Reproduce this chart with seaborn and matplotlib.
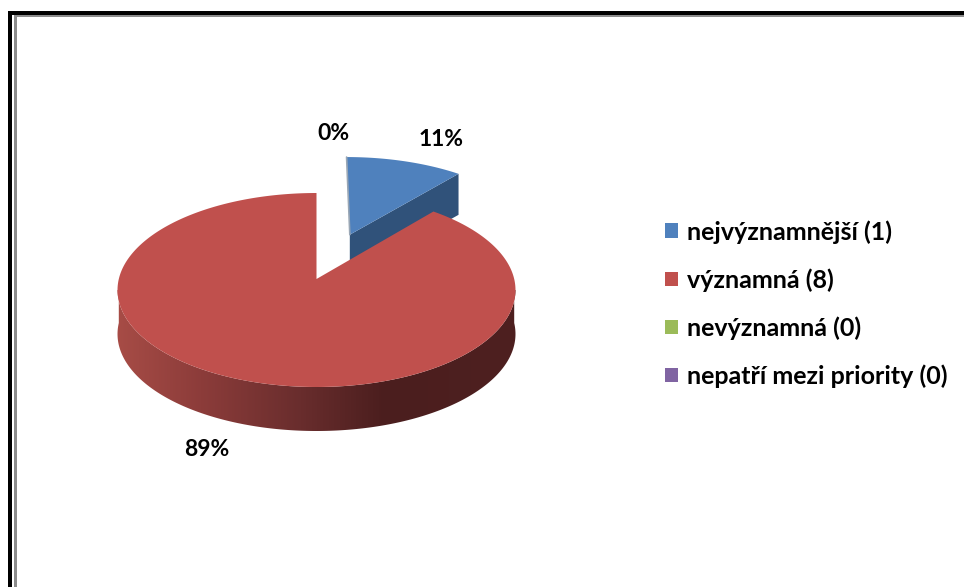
import numpy as np
import matplotlib
matplotlib.use('Agg')
import matplotlib.pyplot as plt
import seaborn as sns
from matplotlib.colors import LinearSegmentedColormap
from matplotlib.patches import Polygon, Rectangle

sns.set_theme(style='white')
plt.rcParams['font.family'] = ['Lato', 'DejaVu Sans']

# Data
categories = ['nejvýznamnější (1)', 'významná (8)', 'nevýznamná (0)', 'nepatří mezi priority (0)']
counts = [1, 8, 0, 0]
explode = [0.52, 0, 0, 0]
colors = sns.color_palette(['#4f81bd', '#c0504d', '#9bbb59', '#8064a2'])

W, H = 964, 587
fig = plt.figure(figsize=(W / 100, H / 100), dpi=100)
ax = fig.add_axes([0, 0, 1, 1])
wedges, _ = ax.pie(counts, colors=colors, explode=explode, startangle=90, counterclock=False)


# pie lies on a tilted plane, so project the unit circle coordinates to pixels
def project(u, v):
    d = 1 + 0.1134 * v
    return 316.5 + 197.7 * u / d, 279 - 95.75 * v / d


def outline(w):
    t = np.radians(np.linspace(w.theta1, w.theta2, 400))
    u = np.r_[w.center[0], w.center[0] + w.r * np.cos(t)]
    v = np.r_[w.center[1], w.center[1] + w.r * np.sin(t)]
    return project(u, v)


for w in wedges:
    w.set_visible(False)
ax.set_aspect('auto')
ax.set_xlim(0, W)
ax.set_ylim(H, 0)
ax.set_axis_off()

# blue slice: side first, then top
bx, by = outline(wedges[0])
depth_b = 41
side = Polygon(np.c_[[bx[0], bx[1], bx[1], bx[0]], [by[0], by[1], by[1] + depth_b, by[0] + depth_b]],
               fc='#30527a', ec='none', zorder=2)
ax.add_patch(side)
ax.add_patch(Polygon(np.c_[bx, by], fc=colors[0], ec='none', zorder=3))
ax.plot([bx[0], bx[-1]], [by[0], by[-1]], color='#9aa7b5', lw=1.2, zorder=4)

# red slice: gradient rim below the front arc
rx, ry = outline(wedges[1])
t = np.radians(np.linspace(180, 360, 400))
fx, fy = project(np.cos(t), np.sin(t))
depth_r = 44
rim = Polygon(np.r_[np.c_[fx, fy], np.c_[fx, fy + depth_r][::-1]], fc='none', ec='none')
ax.add_patch(rim)
cmap = LinearSegmentedColormap.from_list('rim', [(0, '#a74c46'), (0.21, '#8c3c3a'), (0.46, '#692d2d'),
                                                  (0.67, '#4b1e1e'), (1, '#4e2020')])
img = ax.imshow(np.linspace(0, 1, 256)[None, :], cmap=cmap, aspect='auto',
                extent=[117, 516, 440, 290], zorder=5)
img.set_clip_path(rim)
ax.add_patch(Polygon(np.c_[rx, ry], fc=colors[1], ec='none', zorder=6))

ax.set_xlim(0, W)
ax.set_ylim(H, 0)

# percent labels
shares = [f'{c / sum(counts):.0%}' for c in counts]
ax.text(441, 140, shares[0], fontsize=16.5, fontweight='bold', color='black', ha='center', va='center', zorder=7)
ax.text(207, 449, shares[1], fontsize=16.5, fontweight='bold', color='black', ha='center', va='center', zorder=7)
ax.text(333, 134, shares[2], fontsize=16.5, fontweight='bold', color='black', ha='center', va='center', zorder=7)

# legend
leg = ax.legend(wedges, categories, loc='upper left', bbox_to_anchor=(660 / W, 1 - 215 / H),
                frameon=False, fontsize=18, handlelength=0.52, handleheight=0.52,
                handletextpad=0.36, labelspacing=0.98, borderpad=0.2, borderaxespad=0)
for h in leg.legend_handles:
    h.set_visible(True)
    h.set_edgecolor('none')
for txt in leg.get_texts():
    txt.set_color('black')
    txt.set_fontweight('bold')

# picture frame
ax.add_patch(Rectangle((8, 11), W - 8, 4, fc='black', ec='none', zorder=8))
ax.add_patch(Rectangle((8, 11), 4, H - 11, fc='black', ec='none', zorder=8))
ax.add_patch(Rectangle((14, 15), W - 14, 2, fc='#8c8c8c', ec='none', zorder=8))
ax.add_patch(Rectangle((14, 15), 3, H - 15, fc='#8c8c8c', ec='none', zorder=8))

fig.savefig('out.png', dpi=100)
plt.close(fig)
